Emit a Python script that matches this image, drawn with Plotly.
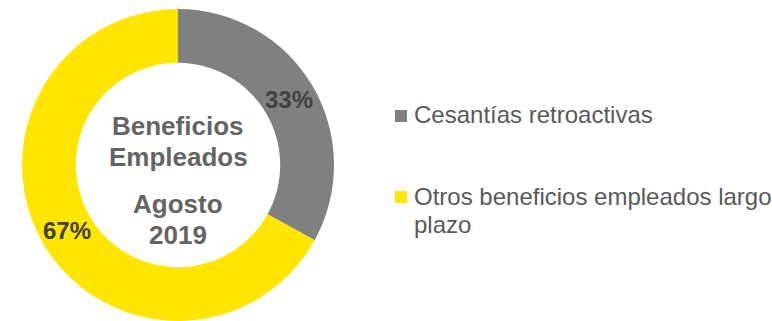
import math
import plotly.graph_objects as go

# Data
labels = ["Cesantías retroactivas", "Otros beneficios empleados largo plazo"]
values = [33, 67]
colors = ["#808080", "#FFE600"]
legend_lines = [["Cesantías retroactivas"], ["Otros beneficios empleados largo", "plazo"]]
center_lines = ["Beneficios", "Empleados", "Agosto", "2019"]

W, H = 772, 321
FONT = "Arial, 'Liberation Sans', sans-serif"

# Donut placement in pixels (center and outer radius) and hole fraction
cx, cy, r = 178, 165, 156
HOLE = 0.655


def px_x(x):
    return x / W


def px_y(y):
    return 1 - y / H


fig = go.Figure(
    go.Pie(
        labels=labels,
        values=values,
        sort=False,
        direction="clockwise",
        rotation=0,
        hole=HOLE,
        marker=dict(colors=colors, line=dict(width=0)),
        textinfo="none",
        showlegend=False,
        hoverinfo="label+percent",
        domain=dict(
            x=[(cx - r) / W, (cx + r) / W],
            y=[max(0, (H - cy - r) / H), (H - cy + r) / H],
        ),
    )
)

annotations = []

# Percentage labels at the middle of each ring segment
total = sum(values)
ring_mid = r * (1 + HOLE) / 2
start = 0.0
for v in values:
    mid_angle = 2 * math.pi * (start + v / 2) / total  # clockwise from 12 o'clock
    lx = cx + ring_mid * math.sin(mid_angle)
    ly = cy - ring_mid * math.cos(mid_angle)
    annotations.append(dict(
        x=px_x(lx), y=px_y(ly), xref="paper", yref="paper",
        text="<b>%d%%</b>" % round(100 * v / total),
        showarrow=False, xanchor="center", yanchor="middle",
        font=dict(family=FONT, size=24, color="#404040"),
    ))
    start += v

# Text in the middle of the donut, one annotation per line
center_y = [126, 157, 204, 235]
for line, y in zip(center_lines, center_y):
    annotations.append(dict(
        x=px_x(cx), y=px_y(y), xref="paper", yref="paper",
        text="<b>%s</b>" % line,
        showarrow=False, xanchor="center", yanchor="middle",
        font=dict(family=FONT, size=26, color="#646464"),
    ))

# Legend: colour key plus label lines
legend_y = [[115], [196, 224]]
shapes = []
for lines, col, ys in zip(legend_lines, colors, legend_y):
    for line, y in zip(lines, ys):
        annotations.append(dict(
            x=px_x(412), y=px_y(y), xref="paper", yref="paper",
            text=line,
            showarrow=False, xanchor="left", yanchor="middle", align="left",
            font=dict(family=FONT, size=24, color="#595959"),
        ))
    mid = ys[0] + 1
    shapes.append(dict(
        type="rect", xref="paper", yref="paper",
        x0=px_x(395), x1=px_x(407), y0=px_y(mid - 6), y1=px_y(mid + 6),
        fillcolor=col, line=dict(width=0),
    ))

fig.update_layout(
    width=W, height=H,
    margin=dict(l=0, r=0, t=0, b=0),
    paper_bgcolor="white", plot_bgcolor="white",
    annotations=annotations, shapes=shapes,
    showlegend=False,
)

fig.write_html("out.html")
